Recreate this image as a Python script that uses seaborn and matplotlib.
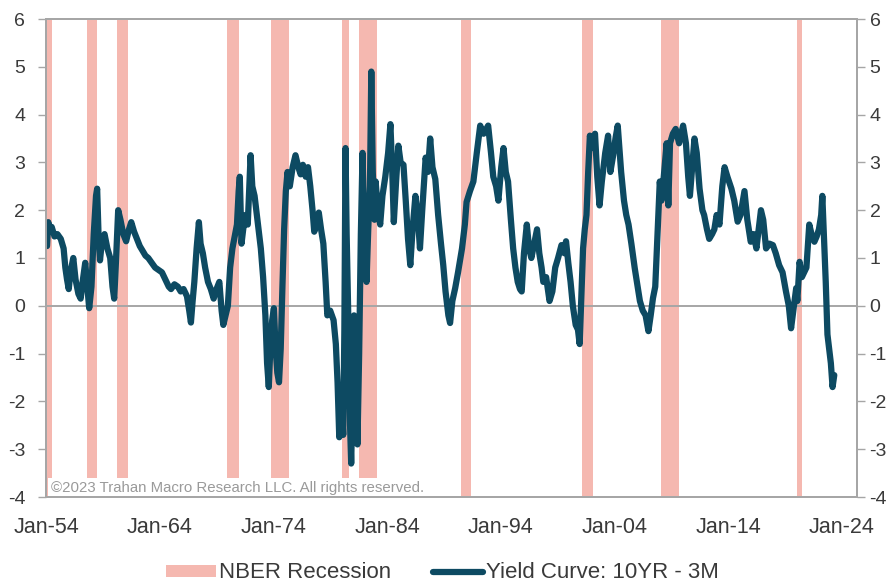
import matplotlib
matplotlib.use("Agg")
import matplotlib.pyplot as plt
import pandas as pd
import seaborn as sns
from matplotlib.patches import Patch
from matplotlib.lines import Line2D

# 10YR - 3M Treasury spread (percentage points), by decimal year
years = [
    1954.09, 1954.20, 1954.35, 1954.50, 1954.75, 1955.00, 1955.30, 1955.55, 1955.70, 1955.85,
    1956.00, 1956.15, 1956.40, 1956.60, 1956.85, 1957.05, 1957.25, 1957.45, 1957.65, 1957.80,
    1958.00, 1958.20, 1958.40, 1958.50, 1958.62, 1958.75, 1958.90, 1959.15, 1959.40, 1959.65,
    1959.85, 1960.00, 1960.15, 1960.35, 1960.55, 1960.80, 1961.05, 1961.30, 1961.50, 1961.75,
    1962.00, 1962.25, 1962.50, 1962.75, 1963.00, 1963.30, 1963.60, 1963.90, 1964.20, 1964.50,
    1964.80, 1965.00, 1965.30, 1965.60, 1965.85, 1966.10, 1966.40, 1966.60, 1966.75, 1966.90,
    1967.05, 1967.25, 1967.45, 1967.60, 1967.80, 1968.00, 1968.25, 1968.50, 1968.75, 1969.00,
    1969.25, 1969.45, 1969.60, 1969.80, 1970.00, 1970.20, 1970.40, 1970.60, 1970.80, 1970.95,
    1971.05, 1971.20, 1971.35, 1971.55, 1971.75, 1971.90, 1972.00, 1972.15, 1972.35, 1972.50,
    1972.70, 1972.90, 1973.10, 1973.30, 1973.45, 1973.60, 1973.75, 1973.90, 1974.05, 1974.20,
    1974.35, 1974.50, 1974.65, 1974.80, 1974.95, 1975.10, 1975.25, 1975.45, 1975.70, 1975.95,
    1976.20, 1976.40, 1976.60, 1976.85, 1977.05, 1977.25, 1977.45, 1977.60, 1977.80, 1978.00,
    1978.20, 1978.40, 1978.60, 1978.75, 1979.00, 1979.30, 1979.50, 1979.65, 1979.80, 1980.00,
    1980.15, 1980.25, 1980.35, 1980.45, 1980.60, 1980.75, 1980.85, 1981.00, 1981.10, 1981.25,
    1981.40, 1981.55, 1981.70, 1981.85, 1982.00, 1982.20, 1982.35, 1982.50, 1982.62, 1982.75,
    1982.90, 1983.00, 1983.20, 1983.40, 1983.60, 1983.85, 1984.10, 1984.30, 1984.45, 1984.60,
    1984.80, 1985.00, 1985.20, 1985.45, 1985.65, 1985.85, 1986.05, 1986.25, 1986.50, 1986.70,
    1986.90, 1987.10, 1987.40, 1987.60, 1987.80, 1988.00, 1988.25, 1988.50, 1988.75, 1988.95,
    1989.15, 1989.40, 1989.55, 1989.75, 1990.00, 1990.25, 1990.60, 1990.85, 1991.00, 1991.30,
    1991.60, 1991.90, 1992.20, 1992.50, 1992.90, 1993.15, 1993.35, 1993.60, 1993.80, 1994.05,
    1994.25, 1994.45, 1994.65, 1994.90, 1995.10, 1995.30, 1995.50, 1995.70, 1995.85, 1996.05,
    1996.30, 1996.50, 1996.70, 1996.95, 1997.20, 1997.40, 1997.60, 1997.75, 1998.00, 1998.30,
    1998.55, 1998.80, 1999.05, 1999.35, 1999.60, 1999.75, 1999.95, 2000.15, 2000.35, 2000.60,
    2000.80, 2000.95, 2001.10, 2001.25, 2001.40, 2001.55, 2001.70, 2001.85, 2002.05, 2002.30,
    2002.50, 2002.70, 2002.90, 2003.20, 2003.45, 2003.65, 2003.90, 2004.10, 2004.30, 2004.45,
    2004.60, 2004.85, 2005.05, 2005.25, 2005.50, 2005.80, 2006.05, 2006.25, 2006.50, 2006.75,
    2007.00, 2007.20, 2007.40, 2007.60, 2007.80, 2008.00, 2008.15, 2008.35, 2008.60, 2008.75,
    2008.90, 2009.15, 2009.40, 2009.70, 2010.05, 2010.30, 2010.50, 2010.65, 2010.85, 2011.05,
    2011.25, 2011.50, 2011.75, 2011.90, 2012.15, 2012.35, 2012.60, 2012.80, 2013.00, 2013.25,
    2013.50, 2013.70, 2013.95, 2014.30, 2014.55, 2014.85, 2015.10, 2015.45, 2015.70, 2016.00,
    2016.25, 2016.50, 2016.90, 2017.10, 2017.35, 2017.65, 2017.95, 2018.20, 2018.50, 2018.80,
    2019.10, 2019.35, 2019.55, 2019.75, 2020.00, 2020.10, 2020.30, 2020.50, 2020.70, 2020.90,
    2021.15, 2021.35, 2021.60, 2021.80, 2022.00, 2022.20, 2022.30, 2022.45, 2022.60, 2022.75,
    2022.90, 2023.05, 2023.20, 2023.35,
]
spread = [
    1.25, 1.75, 1.55, 1.65, 1.45, 1.50, 1.40, 1.20, 0.80, 0.55,
    0.35, 0.70, 1.00, 0.55, 0.25, 0.15, 0.55, 0.90, 0.35, -0.05,
    0.40, 1.50, 2.30, 2.45, 1.50, 0.95, 1.30, 1.50, 1.20, 1.00,
    0.40, 0.15, 0.90, 2.00, 1.80, 1.50, 1.35, 1.60, 1.75, 1.55,
    1.40, 1.25, 1.15, 1.05, 1.00, 0.90, 0.80, 0.75, 0.70, 0.55,
    0.40, 0.35, 0.45, 0.40, 0.30, 0.35, 0.20, -0.10, -0.35, 0.10,
    0.50, 1.20, 1.75, 1.30, 1.10, 0.80, 0.50, 0.35, 0.15, 0.35,
    0.50, -0.10, -0.40, -0.20, 0.00, 0.80, 1.20, 1.45, 1.70, 2.40,
    2.70, 1.30, 1.60, 1.90, 1.70, 2.60, 3.15, 2.50, 2.30, 2.00,
    1.60, 1.20, 0.60, -0.20, -1.20, -1.70, -0.80, -0.30, -0.05, -0.90,
    -1.40, -1.60, -0.90, 0.40, 1.60, 2.40, 2.80, 2.50, 2.90, 3.15,
    2.90, 2.75, 2.95, 2.70, 2.90, 2.50, 2.00, 1.55, 1.70, 1.95,
    1.60, 1.30, 0.50, -0.20, -0.10, -0.30, -0.80, -1.60, -2.75, -2.00,
    -2.70, -0.50, 3.30, 1.50, -0.30, -2.50, -3.30, -1.50, -0.20, -1.50,
    -2.90, -1.00, 1.50, 3.20, 1.50, 0.50, 1.60, 2.50, 4.90, 2.80,
    1.80, 2.60, 2.00, 1.70, 2.30, 2.70, 3.20, 3.80, 2.90, 1.75,
    2.60, 3.35, 3.00, 2.95, 2.20, 1.40, 0.85, 1.60, 2.30, 1.90,
    1.20, 2.00, 3.10, 2.80, 3.50, 2.90, 2.65, 1.90, 1.30, 0.85,
    0.30, -0.20, -0.36, 0.10, 0.37, 0.70, 1.20, 1.70, 2.17, 2.40,
    2.60, 3.20, 3.77, 3.60, 3.77, 3.20, 2.70, 2.50, 2.20, 2.90,
    3.30, 2.80, 2.60, 1.80, 1.20, 0.80, 0.50, 0.35, 0.30, 1.10,
    1.70, 1.20, 1.00, 1.30, 1.60, 1.10, 0.80, 0.50, 0.60, 0.10,
    0.30, 0.80, 1.00, 1.27, 1.10, 1.35, 0.90, 0.50, 0.00, -0.40,
    -0.50, -0.80, 0.20, 1.20, 1.60, 1.90, 2.80, 3.56, 3.30, 3.60,
    2.70, 2.10, 2.60, 3.20, 3.56, 2.80, 3.15, 3.50, 3.77, 3.30,
    2.80, 2.20, 1.90, 1.70, 1.30, 0.78, 0.40, 0.10, -0.10, -0.20,
    -0.53, -0.20, 0.16, 0.40, 1.50, 2.60, 2.20, 2.70, 3.40, 2.10,
    3.40, 3.60, 3.70, 3.40, 3.77, 3.40, 2.70, 2.30, 2.90, 3.50,
    3.20, 2.45, 2.00, 1.90, 1.60, 1.40, 1.50, 1.60, 1.90, 1.70,
    2.50, 2.90, 2.70, 2.45, 2.20, 1.76, 1.90, 2.40, 1.80, 1.34,
    1.50, 1.20, 2.00, 1.80, 1.20, 1.30, 1.27, 1.10, 0.85, 0.70,
    0.30, 0.00, -0.47, -0.10, 0.37, 0.10, 0.92, 0.60, 0.70, 0.80,
    1.70, 1.50, 1.34, 1.45, 1.60, 1.90, 2.30, 1.40, 0.50, -0.60,
    -0.90, -1.20, -1.70, -1.45,
]

# NBER recession periods (decimal years)
rec_start = [1954.00, 1957.65, 1960.25, 1969.90, 1973.83, 1980.00, 1981.53, 1990.47, 2001.16, 2008.10, 2020.05]
rec_end = [1954.50, 1958.50, 1961.20, 1970.98, 1975.38, 1980.70, 1983.08, 1991.41, 2002.09, 2009.65, 2020.49]

tick_years = [1954, 1964, 1974, 1984, 1994, 2004, 2014, 2024]
tick_labels = ["Jan-54", "Jan-64", "Jan-74", "Jan-84", "Jan-94", "Jan-04", "Jan-14", "Jan-24"]
y_ticks = [-4, -3, -2, -1, 0, 1, 2, 3, 4, 5, 6]

LINE = "#0d4a62"
REC = "#f5b8b0"
AXIS = "#a6a6a6"
TEXT = "#3a3a3a"

sns.set_theme(style="white")
plt.rcParams["font.family"] = ["Liberation Sans", "DejaVu Sans"]
plt.rcParams["axes.unicode_minus"] = False

fig = plt.figure(figsize=(8.88, 5.85), dpi=100)
W, H = 888, 585
ax = fig.add_axes([46 / W, 1 - 497 / H, (857 - 46) / W, (497 - 19) / H])

for s, e in zip(rec_start, rec_end):
    ax.axvspan(s, e, facecolor=REC, edgecolor="none", zorder=1)

ax.axhline(0, color=AXIS, lw=1.4, zorder=2)

df = pd.DataFrame({"Date": years, "Spread": spread})
sns.lineplot(data=df, x="Date", y="Spread", ax=ax, color=LINE, lw=4.5,
             estimator=None, sort=False, legend=False, zorder=3)

ax.set_xlim(1954.0, 2025.35)
ax.set_ylim(-4, 6)
ax.set_xlabel("")
ax.set_ylabel("")

ax.set_xticks(tick_years)
ax.set_xticklabels(tick_labels)
ax.tick_params(axis="x", length=0, pad=14.5, labelsize=15.5, labelcolor=TEXT)
ax.set_yticks(y_ticks)
ax.set_yticklabels([str(v) for v in y_ticks])
ax.tick_params(axis="y", left=True, length=6, width=1, color=AXIS, pad=9,
               labelsize=14, labelcolor=TEXT)

ax2 = ax.twinx()
ax2.set_ylim(-4, 6)
ax2.set_yticks(y_ticks)
ax2.set_yticklabels([str(v) for v in y_ticks])
ax2.tick_params(axis="y", right=True, length=6, width=1, color=AXIS, pad=3,
                labelsize=14, labelcolor=TEXT)
ax2.grid(False)

for a in (ax, ax2):
    for sp in a.spines.values():
        sp.set_color(AXIS)
        sp.set_linewidth(1.4)

ax.text(1954.45, -3.96, "\u00a92023 Trahan Macro Research LLC. All rights reserved.",
        fontsize=10.8, color="#9a9a9a", ha="left", va="bottom", zorder=2.4,
        bbox=dict(facecolor="white", edgecolor="none", pad=2.5))

handles = [
    Patch(facecolor=REC, edgecolor="none", label="NBER Recession"),
    Line2D([], [], color=LINE, lw=4.5, label="Yield Curve: 10YR - 3M"),
]
leg = fig.legend(handles=handles, loc="center", bbox_to_anchor=(0.498, 1 - 573 / H),
                 ncol=2, frameon=False, fontsize=16, handlelength=2.25,
                 handletextpad=0.14, columnspacing=1.9, handleheight=0.45)
for t in leg.get_texts():
    t.set_color(TEXT)

fig.savefig("out.png", dpi=100)
